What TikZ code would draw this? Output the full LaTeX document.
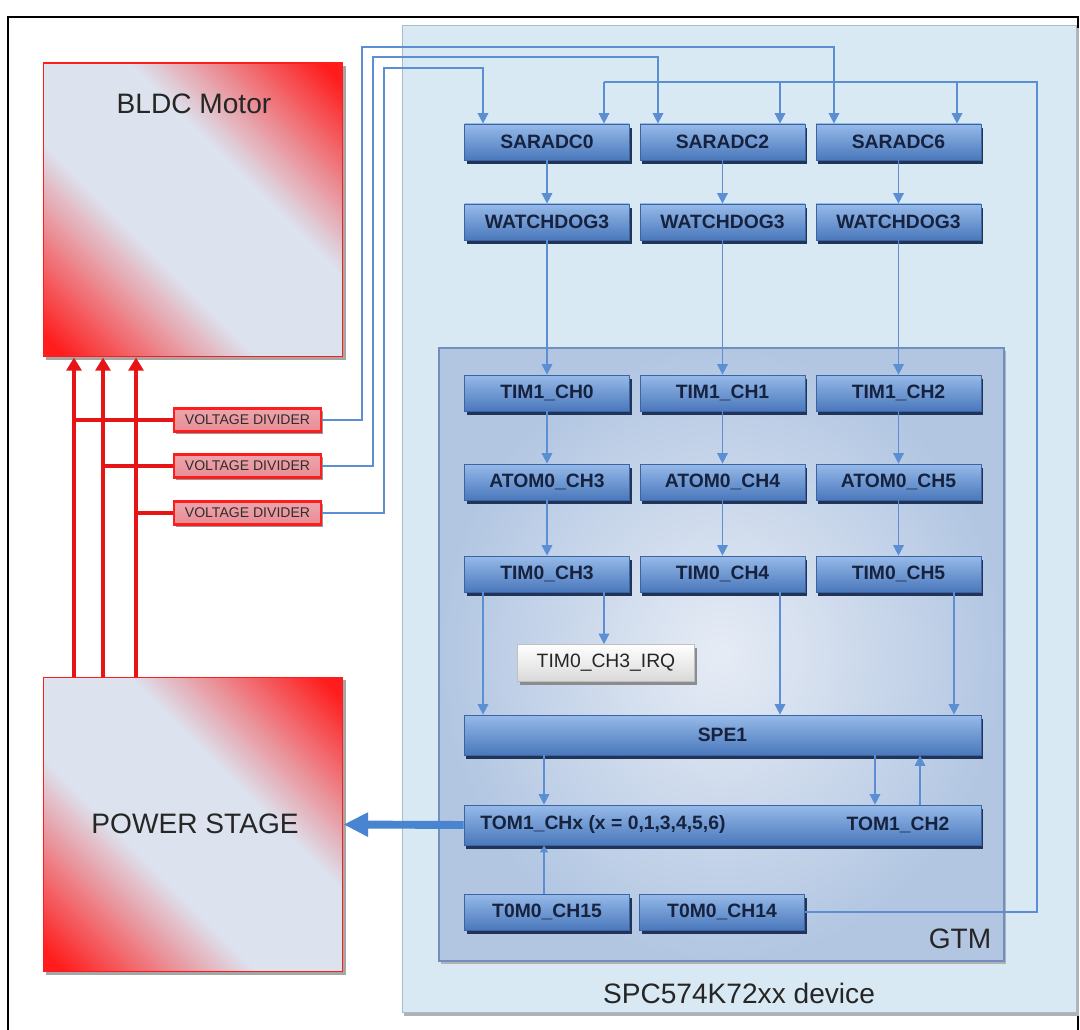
\documentclass[tikz,border=0pt]{standalone}
\usepackage{fontspec}
\setmainfont{Liberation Sans}
\usetikzlibrary{arrows.meta,shadows}

% palette
\definecolor{boxtop}{RGB}{150,186,233}
\definecolor{boxmid}{RGB}{100,146,210}
\definecolor{boxbot}{RGB}{74,120,188}
\definecolor{boxedge}{RGB}{60,100,164}
\definecolor{boxshadow}{RGB}{32,52,88}
\definecolor{boxtext}{RGB}{22,34,62}
\definecolor{wirecol}{RGB}{92,142,212}
\definecolor{bigarrowcol}{RGB}{72,132,208}
\definecolor{devfill}{RGB}{216,233,243}
\definecolor{devedge}{RGB}{165,188,206}
\definecolor{gtminner}{RGB}{230,236,245}
\definecolor{gtmouter}{RGB}{178,198,226}
\definecolor{gtmedge}{RGB}{112,142,192}
\definecolor{hotred}{RGB}{255,28,28}
\definecolor{palebg}{RGB}{220,226,238}
\definecolor{phasered}{RGB}{230,20,20}

% diagonal red-corner fill of the motor and power stage blocks
\pgfdeclarehorizontalshading{redcorner}{100bp}{color(0bp)=(hotred); color(17bp)=(hotred);
  color(40bp)=(palebg); color(60bp)=(palebg); color(83bp)=(hotred); color(100bp)=(hotred)}

\begin{document}
\begin{tikzpicture}[x=0.02cm,y=-0.02cm,
  bbox/.style={draw=boxedge, line width=0.4pt, top color=boxtop, middle color=boxmid,
    bottom color=boxbot, text=boxtext, inner sep=0pt,
    minimum width=3.3cm, minimum height=0.72cm,
    font=\fontsize{11}{13}\selectfont\bfseries,
    drop shadow={shadow xshift=1.2pt, shadow yshift=-2.2pt, fill=boxshadow, opacity=1}},
  widebox/.style={bbox, minimum width=10.34cm, minimum height=0.8cm},
  irqbox/.style={draw=black!25, line width=0.4pt, top color=white, bottom color=black!15,
    text=black!85, inner sep=0pt, minimum width=3.54cm, minimum height=0.74cm,
    font=\fontsize{11}{13}\selectfont,
    drop shadow={shadow xshift=1.2pt, shadow yshift=-2pt, fill=black!45, opacity=1}},
  redblock/.style={draw=hotred, line width=0.6pt, shade, shading=redcorner, shading angle=45,
    minimum width=6cm, inner sep=0pt,
    drop shadow={shadow xshift=1.5pt, shadow yshift=-1.8pt, fill=black!35, opacity=1}},
  divbox/.style={draw=hotred, line width=1.5pt, top color={rgb,255:red,238;green,165;blue,172},
    middle color={rgb,255:red,242;green,236;blue,242}, bottom color={rgb,255:red,232;green,140;blue,148},
    inner sep=0pt, minimum width=2.94cm, minimum height=0.46cm, text=black!82,
    font=\fontsize{8}{9}\selectfont,
    drop shadow={shadow xshift=1.2pt, shadow yshift=-1.5pt, fill=black!40, opacity=1}},
  biglabel/.style={font=\fontsize{16}{18}\selectfont, text=black!85, inner sep=0pt},
  wire/.style={draw=wirecol, line width=0.9pt},
  tip/.style={-{Triangle[length=6pt,width=6pt]}},
  phase/.style={draw=phasered, line width=2.8pt},
  phasetip/.style={-{Triangle[length=7.5pt,width=8.5pt]}},
  bigarrow/.style={draw=bigarrowcol, line width=4.5pt, -{Triangle[length=14pt,width=13pt]}}
]
\useasboundingbox (0,0) rectangle (1080,1030);
\fill[white] (0,0) rectangle (1080,1030);

% outer frame
\draw[black, line width=1.2pt] (8,1040) -- (8,17) -- (1078,17) -- (1078,1040);

% device and GTM areas
\node[draw=devedge, line width=0.6pt, fill=devfill, minimum width=13.5cm, minimum height=19.76cm,
  inner sep=0pt, drop shadow={shadow xshift=1pt, shadow yshift=-1.5pt, fill=black!30, opacity=1}]
  (dev) at (739.5,519) {};
\node[draw=gtmedge, line width=0.7pt, shade, shading=radial, inner color=gtminner, outer color=gtmouter,
  minimum width=11.3cm, minimum height=12.26cm, inner sep=0pt,
  drop shadow={shadow xshift=1.2pt, shadow yshift=-1.8pt, fill=black!30, opacity=1}]
  (gtm) at (721.5,654.5) {};
\node[biglabel] (devlabel) at (739,993) {SPC574K72xx device};
\node[biglabel] (gtmlabel) at (960,939) {GTM};

% motor side
\node[redblock, minimum height=5.88cm] (bldc) at (193,210) {};
\node[biglabel] (bldclabel) at (194,104) {BLDC Motor};
\node[redblock, minimum height=5.9cm] (pow) at (193,824.5) {};
\node[biglabel] (powlabel) at (195,824) {POWER STAGE};

\node[divbox] (vd1) at (247.5,420) {VOLTAGE DIVIDER};
\node[divbox] (vd2) at (247.5,466) {VOLTAGE DIVIDER};
\node[divbox] (vd3) at (247.5,513) {VOLTAGE DIVIDER};

% phase lines between power stage and motor
\foreach \px in {74,103,136}
  \draw[phase, phasetip] (\px,0 |- pow.north) -- (\px,0 |- bldc.south);
\draw[phase] (vd1.west) -- (74,0 |- vd1.west);
\draw[phase] (vd2.west) -- (103,0 |- vd2.west);
\draw[phase] (vd3.west) -- (136,0 |- vd3.west);

% peripheral blocks
\node[bbox] (sar0) at (547,142) {SARADC0};
\node[bbox] (sar2) at (722.5,142) {SARADC2};
\node[bbox] (sar6) at (898.5,142) {SARADC6};
\node[bbox] (wd0) at (547,222) {WATCHDOG3};
\node[bbox] (wd2) at (722.5,222) {WATCHDOG3};
\node[bbox] (wd6) at (898.5,222) {WATCHDOG3};
\node[bbox] (tia0) at (547,393) {TIM1\_CH0};
\node[bbox] (tia1) at (722.5,393) {TIM1\_CH1};
\node[bbox] (tia2) at (898.5,393) {TIM1\_CH2};
\node[bbox] (at3) at (547,482) {ATOM0\_CH3};
\node[bbox] (at4) at (722.5,482) {ATOM0\_CH4};
\node[bbox] (at5) at (898.5,482) {ATOM0\_CH5};
\node[bbox] (tib3) at (547,574) {TIM0\_CH3};
\node[bbox] (tib4) at (722.5,574) {TIM0\_CH4};
\node[bbox] (tib5) at (898.5,574) {TIM0\_CH5};
\node[irqbox] (irq) at (606,663) {TIM0\_CH3\_IRQ};
\node[widebox] (spe) at (722.5,735) {SPE1};
\node[widebox] (tom) at (722.5,825) {};
\node[font=\fontsize{11}{13}\selectfont\bfseries, text=boxtext, inner sep=0pt]
  (tomx) at (603,825) {TOM1\_CHx (x = 0,1,3,4,5,6)};
\node[font=\fontsize{11}{13}\selectfont\bfseries, text=boxtext, inner sep=0pt]
  (tomtwo) at (898,825) {TOM1\_CH2};
\node[bbox] (t15) at (547,912) {T0M0\_CH15};
\node[bbox] (t14) at (722,912) {T0M0\_CH14};

% sensing wires from the dividers to the ADC triggers
\coordinate (w1) at (362,47);
\coordinate (w2) at (373,57);
\coordinate (w3) at (384,68);
\draw[wire, tip] (vd1.east) -| (w1) -| (834,0 |- sar6.north);
\draw[wire, tip] (vd2.east) -| (w2) -| (658,0 |- sar2.north);
\draw[wire, tip] (vd3.east) -| (w3) -| (483,0 |- sar0.north);

% trigger bus from T0M0_CH14
\coordinate (busR) at (1037,82);
\coordinate (b0) at (604,82);
\coordinate (b2) at (780,82);
\coordinate (b6) at (957,82);
\draw[wire] (t14.east) -| (busR) -- (b0);
\draw[wire, tip] (b0) -- (b0 |- sar0.north);
\draw[wire, tip] (b2) -- (b2 |- sar2.north);
\draw[wire, tip] (b6) -- (b6 |- sar6.north);

% column chains
\foreach \a/\b in {sar0/wd0,sar2/wd2,sar6/wd6,wd0/tia0,wd2/tia1,wd6/tia2,
                   tia0/at3,tia1/at4,tia2/at5,at3/tib3,at4/tib4,at5/tib5}
  \draw[wire, tip] (\a.south) -- (\b.north);

% towards SPE1 and the IRQ
\draw[wire, tip] (483,0 |- tib3.south) -- (483,0 |- spe.north);
\draw[wire, tip] (604,0 |- tib3.south) -- (604,0 |- irq.north);
\draw[wire, tip] (780,0 |- tib4.south) -- (780,0 |- spe.north);
\draw[wire, tip] (954,0 |- tib5.south) -- (954,0 |- spe.north);

% SPE1 and TOM1
\draw[wire, tip] (544,0 |- spe.south) -- (544,0 |- tom.north);
\draw[wire, tip] (875,0 |- spe.south) -- (875,0 |- tom.north);
\draw[wire, tip] (920,0 |- tom.north) -- (920,0 |- spe.south);
\draw[wire, -{Triangle[length=4pt,width=4.5pt]}] (544,0 |- t15.north) -- (544,0 |- tom.south);

% PWM outputs to the power stage
\draw[bigarrow] (tom.west) -- (pow.east);
\end{tikzpicture}
\end{document}
